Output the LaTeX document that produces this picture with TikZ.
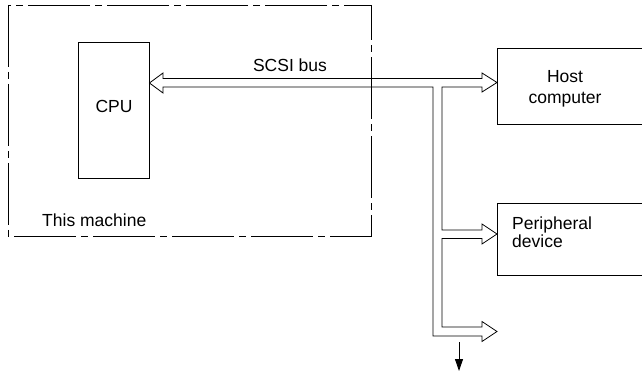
\documentclass[tikz,border=0pt]{standalone}
\usepackage{fontspec}
\setmainfont{Liberation Sans}
\usetikzlibrary{arrows.meta}
\begin{document}
\begin{tikzpicture}[x=1pt,y=-1pt,
  box/.style={draw,line width=0.9pt,inner sep=0pt},
  lbl/.style={font=\fontsize{17.5}{20}\selectfont,inner sep=0pt},
  bus/.style={line width=0.8pt,line join=miter},
  machine/.style={draw,line width=0.8pt,dash pattern=on 62pt off 5pt on 7pt off 5pt}]
\useasboundingbox (0,0) rectangle (642,371);
\clip (0,0) rectangle (642,371);
% enclosing machine
\draw[machine] (8,5) rectangle (371,236);
\node[lbl,anchor=west] (mach) at (42,220) {This machine};
% boxes
\node[box,minimum width=71pt,minimum height=136pt] (cpu) at (113.5,110) {};
\node[lbl] (cputxt) at (114,106) {CPU};
\node[box,anchor=north west,minimum width=160pt,minimum height=76pt] (host) at (497,48) {};
\node[lbl,align=center] (hosttxt) at (565,88.5) {Host\\[1pt]computer};
\node[box,anchor=north west,minimum width=160pt,minimum height=72pt] (peri) at (497,203) {};
\node[lbl,align=left,anchor=west,font=\fontsize{17.5}{18}\selectfont] (peritxt) at (512,232) {Peripheral\\device};
\node[lbl] (scsi) at (290,65) {SCSI bus};
% bus coordinates
\coordinate (tipC) at (cpu.east |- 0,83);
\coordinate (tipH) at (host.west |- 0,82.5);
\coordinate (tipP) at (peri.west |- 0,234);
\coordinate (tipE) at (497,331.5);
% hollow bus outline
\draw[bus] (163,78.5) -- (482,78.5) -- (482,73) -- (tipH) -- (482,92) -- (482,87) -- (442,87)
  -- (442,230) -- (482,230) -- (482,224) -- (tipP) -- (482,244) -- (482,238.5) -- (442,238.5)
  -- (442,327) -- (482,327) -- (482,321.5) -- (tipE) -- (482,341.5) -- (482,336) -- (433,336)
  -- (433,87) -- (163,87) -- (163,93) -- (tipC) -- (163,73) -- cycle;
% small downward arrow
\coordinate (dn) at (459,371);
\draw[line width=0.9pt,-{Triangle[width=8pt,length=12pt]}] (459,342) -- (dn);
\end{tikzpicture}
\end{document}
